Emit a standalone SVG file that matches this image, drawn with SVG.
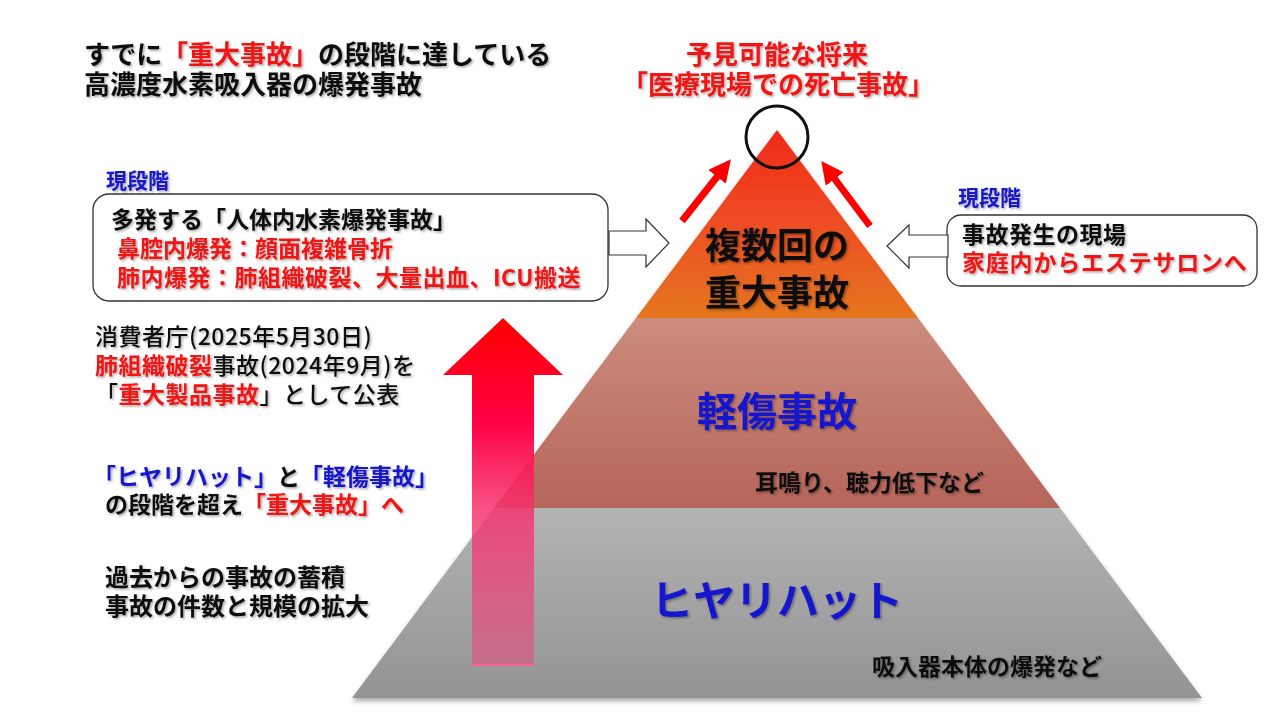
<svg xmlns="http://www.w3.org/2000/svg" width="1280" height="720" viewBox="0 0 1280 720">
<defs>
<linearGradient id="gTop" x1="0" y1="130" x2="0" y2="318" gradientUnits="userSpaceOnUse">
<stop offset="0" stop-color="#f02818"/><stop offset="0.45" stop-color="#ee4a22"/><stop offset="1" stop-color="#e4761f"/>
</linearGradient>
<linearGradient id="gMid" x1="0" y1="318" x2="0" y2="508" gradientUnits="userSpaceOnUse">
<stop offset="0" stop-color="#cb8c7d"/><stop offset="1" stop-color="#b6655a"/>
</linearGradient>
<linearGradient id="gBot" x1="0" y1="508" x2="0" y2="698" gradientUnits="userSpaceOnUse">
<stop offset="0" stop-color="#b3b3b3"/><stop offset="1" stop-color="#939393"/>
</linearGradient>
<linearGradient id="gBig" x1="0" y1="318" x2="0" y2="665" gradientUnits="userSpaceOnUse">
<stop offset="0" stop-color="#ff0000"/><stop offset="0.3" stop-color="#ff0044"/><stop offset="0.55" stop-color="#f5336e" stop-opacity="0.85"/><stop offset="1" stop-color="#e84a7a" stop-opacity="0.55"/>
</linearGradient>
<filter id="ts" x="-10%" y="-30%" width="120%" height="160%">
<feDropShadow dx="1.5" dy="1.5" stdDeviation="1" flood-color="#000" flood-opacity="0.35"/>
</filter>
<filter id="ps" x="-5%" y="-5%" width="110%" height="110%">
<feDropShadow dx="0" dy="3" stdDeviation="2.5" flood-color="#000" flood-opacity="0.35"/>
</filter>
<marker id="redHead" viewBox="0 0 10 10" refX="5" refY="5" markerWidth="3.2" markerHeight="3.2" orient="auto">
<path d="M0,0 L10,5 L0,10 Z" fill="#ff0000"/>
</marker>
</defs>
<style>
text{font-family:"Noto Sans CJK JP","Noto Sans",sans-serif;font-weight:700;filter:url(#ts)}
.k{fill:#111}
.r{fill:#f01414}
.b{fill:#1414cc}
.m{font-weight:500}
.n{font-size:23px;letter-spacing:0.5px}
.box{fill:#fff;stroke:#333;stroke-width:1.3}
.blk{fill:#fff;stroke:#333;stroke-width:1.2}
.ra{stroke:#ff0000;stroke-width:7;fill:none;marker-end:url(#redHead)}
</style>
<rect width="1280" height="720" fill="#fff"/>

<g id="pyramid" filter="url(#ps)">
<polygon points="777,130 918,318 636,318" fill="url(#gTop)"/>
<polygon points="636,318 918,318 1060,508 494,508" fill="url(#gMid)"/>
<polygon points="494,508 1060,508 1202,698 352,698" fill="url(#gBot)"/>
</g>

<g id="peak">
<circle cx="777" cy="137" r="31" fill="none" stroke="#111" stroke-width="3"/>
</g>

<g id="title-left">
<text x="84" y="64" font-size="26" class="k">すでに</text>
<text x="162" y="64" font-size="26" class="r">「重大事故」</text>
<text x="318" y="64" font-size="26" class="k">の段階に達している</text>
<text x="84" y="94" font-size="26" class="k">高濃度水素吸入器の爆発事故</text>
</g>

<g id="title-center">
<text x="777" y="64" font-size="26" class="r" text-anchor="middle">予見可能な将来</text>
<text x="778" y="94" font-size="26" class="r" text-anchor="middle">「医療現場での死亡事故」</text>
</g>

<g id="box-left">
<text x="106" y="188" font-size="21" class="b">現段階</text>
<rect x="93" y="194" width="515" height="107" rx="16" class="box"/>
<text x="111" y="228" font-size="23" class="k">多発する「人体内水素爆発事故」</text>
<text x="117" y="257" font-size="23" class="r">鼻腔内爆発：顔面複雑骨折</text>
<text x="117" y="286" font-size="23" class="r" letter-spacing="0.5">肺内爆発：肺組織破裂、大量出血、ICU搬送</text>
</g>

<g id="box-right">
<text x="958" y="205" font-size="21" class="b">現段階</text>
<rect x="947" y="215" width="310" height="71" rx="14" class="box"/>
<text x="962" y="243" font-size="23" class="k" letter-spacing="0.5">事故発生の現場</text>
<text x="962" y="271" font-size="23" class="r" letter-spacing="0.8">家庭内からエステサロンへ</text>
</g>

<g id="big-arrow">
<polygon points="503,318 563,375 534,375 534,665 472,665 472,375 443,375" fill="url(#gBig)"/>
<line x1="472" y1="665" x2="534" y2="665" stroke="#f06090" stroke-width="2"/>
</g>

<g id="notes-left">
<text x="95" y="345" class="k m n">消費者庁(2025年5月30日)</text>
<text x="95" y="374" class="r n">肺組織破裂</text>
<text x="212.5" y="374" class="k m n">事故(2024年9月)を</text>
<text x="95" y="403" class="k m n">「</text>
<text x="118.5" y="403" class="r n">重大製品事故</text>
<text x="259.5" y="403" class="k m n">」として公表</text>
<text x="93" y="485" font-size="23" class="b">「ヒヤリハット」</text>
<text x="277" y="485" font-size="23" class="k">と</text>
<text x="300" y="485" font-size="23" class="b">「軽傷事故」</text>
<text x="105" y="513" font-size="23" class="k">の段階を超え</text>
<text x="243" y="513" font-size="23" class="r">「重大事故」へ</text>
<text x="105" y="586" font-size="24" class="k">過去からの事故の蓄積</text>
<text x="105" y="615" font-size="24" class="k">事故の件数と規模の拡大</text>
</g>

<g id="labels-pyramid">
<text x="777" y="259" font-size="36" class="k" text-anchor="middle">複数回の</text>
<text x="777" y="306" font-size="36" class="k" text-anchor="middle">重大事故</text>
<text x="777" y="426" font-size="40" class="b" text-anchor="middle">軽傷事故</text>
<text x="755" y="491" font-size="23" class="k">耳鳴り、聴力低下など</text>
<text x="777" y="616" font-size="42" class="b" text-anchor="middle">ヒヤリハット</text>
<text x="872" y="675" font-size="23" class="k">吸入器本体の爆発など</text>
</g>

<g id="connectors">
<polygon points="609,231 646,231 646,219 669,243 646,267 646,255 609,255" class="blk"/>
<polygon points="948,235 909,235 909,225 887,246 909,268 909,257 948,257" class="blk"/>
<line x1="682" y1="221" x2="724" y2="168" class="ra"/>
<line x1="870" y1="226" x2="828" y2="170" class="ra"/>
</g>
</svg>
